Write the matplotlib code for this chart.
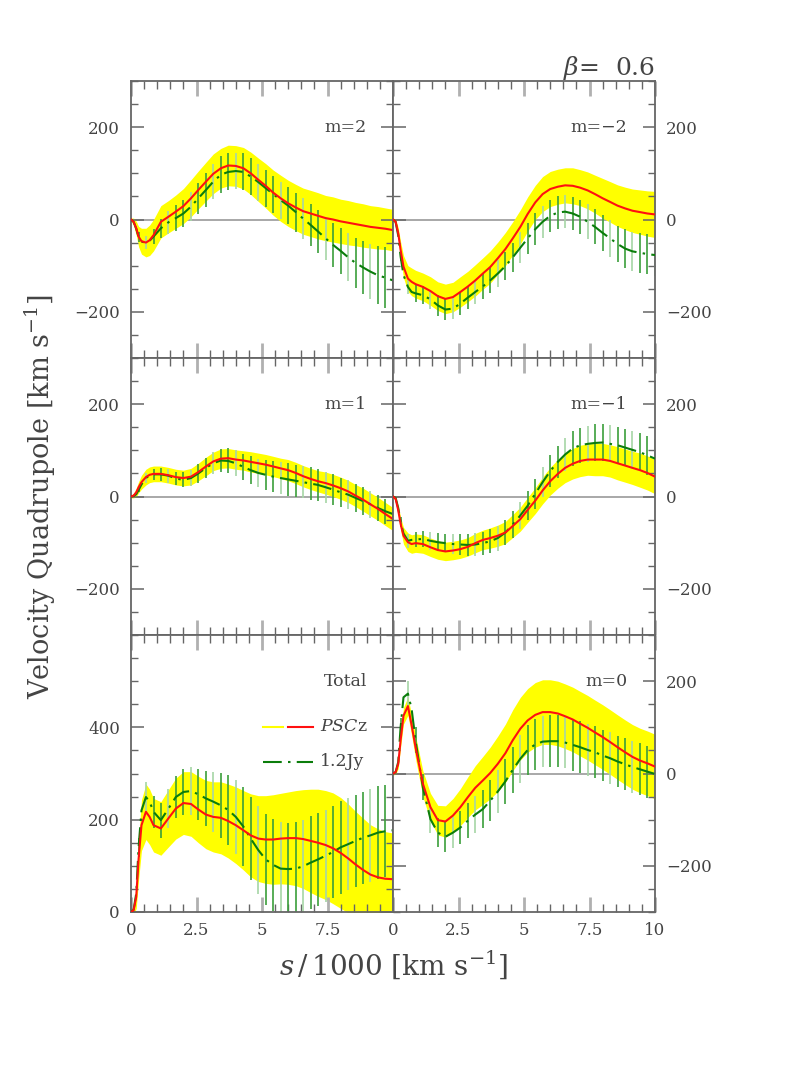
import matplotlib
matplotlib.use("Agg")
import matplotlib.pyplot as plt
import numpy as np
from matplotlib.ticker import MultipleLocator, FixedLocator

plt.rcParams["font.family"] = ["DejaVu Serif"]
plt.rcParams["mathtext.fontset"] = "dejavuserif"

nan = np.nan

# s/1000 sample points (error bars only where the error array is not nan)
S = [0.0, 0.1, 0.2, 0.29, 0.4, 0.57, 0.71, 0.86, 1.14, 1.43, 1.71, 2.0, 2.29, 2.57,
     2.86, 3.14, 3.43, 3.71, 4.0, 4.29, 4.57, 4.86, 5.14, 5.43, 5.71, 6.0, 6.29, 6.57,
     6.86, 7.14, 7.43, 7.71, 8.0, 8.29, 8.57, 8.86, 9.14, 9.43, 9.71, 10.0]

# m=2
M2_PSCZ = [0, -5, -19, -37, -47, -50, -45, -34, -5, 6, 17, 29, 46, 64, 82, 99, 111, 117,
           116, 111, 100, 86, 73, 58, 46, 35, 26, 18, 13, 8, 3, 0, -4, -7, -10, -13, -16,
           -18, -20, -23]
M2_BAND = [3, 8, 15, 22, 28, 31, 33, 34, 35, 35, 36, 38, 40, 41, 42, 43, 43, 44, 44, 45,
           46, 47, 48, 49, 50, 50, 50, 50, 50, 50, 49, 49, 48, 48, 47, 47, 46, 46, 45, 45]
M2_JY = [0, -5, -20, -38, -48, -50, -46, -37, -19, -6, 3, 13, 28, 46, 64, 82, 97, 103,
         105, 103, 93, 81, 68, 55, 42, 30, 16, 2, -12, -26, -41, -55, -68, -82, -94, -104,
         -113, -121, -126, -132]
M2_ERR = [nan, nan, nan, 10, nan, 14, nan, 16, 20, 25, 28, 30, 32, 34, 36, 38, 40, 40,
          40, 40, 40, 40, 40, 40, 40, 40, 42, 44, 45, 46, 47, 48, 50, 52, 55, 58, 60, 63,
          66, 70]

# m=-2
MM2_PSCZ = [0, -5, -30, -66, -102, -128, -135, -140, -146, -155, -166, -172, -168, -157,
            -145, -132, -117, -103, -84, -64, -41, -16, 12, 37, 55, 66, 71, 74, 73, 69, 63,
            55, 46, 38, 30, 24, 19, 16, 13, 11]
MM2_BAND = [3, 6, 12, 18, 24, 28, 30, 30, 30, 31, 31, 32, 32, 33, 33, 34, 34, 35, 35, 36,
            36, 37, 37, 37, 38, 38, 38, 38, 39, 39, 40, 41, 43, 44, 45, 46, 47, 48, 49, 50]
MM2_JY = [0, -5, -35, -80, -120, -146, -157, -160, -164, -173, -186, -195, -193, -182,
          -169, -157, -145, -132, -117, -101, -82, -61, -41, -21, -5, 8, 15, 17, 13, 6, -5,
          -16, -29, -41, -53, -63, -69, -72, -75, -77]
MM2_ERR = [nan, nan, nan, 10, nan, 15, nan, 18, 20, 20, 22, 22, 22, 24, 25, 26, 27, 28,
           30, 30, 32, 33, 34, 35, 35, 35, 36, 36, 36, 37, 38, 38, 39, 40, 40, 42, 42, 43,
           44, 45]

# m=1
M1_PSCZ = [0, 2, 9, 20, 31, 42, 47, 49, 49, 46, 42, 40, 43, 53, 65, 76, 82, 83, 80, 78,
           75, 72, 69, 65, 61, 57, 51, 44, 38, 33, 29, 24, 18, 11, 2, -7, -17, -27, -38, -49]
M1_BAND = [3, 5, 9, 12, 15, 17, 17, 17, 17, 17, 17, 17, 18, 19, 20, 20, 21, 21, 21, 21,
           22, 22, 22, 22, 22, 23, 23, 23, 23, 23, 24, 24, 24, 24, 24, 25, 25, 25, 25, 25]
M1_JY = [0, 1, 5, 14, 26, 40, 46, 48, 48, 45, 39, 36, 40, 50, 62, 72, 78, 77, 72, 64, 57,
         51, 47, 43, 40, 37, 34, 31, 28, 25, 20, 15, 9, 4, -3, -10, -17, -25, -32, -38]
M1_ERR = [nan, nan, nan, 5, nan, 10, nan, 12, 14, 15, 15, 16, 18, 20, 22, 24, 25, 27, 28,
          29, 30, 31, 32, 33, 34, 35, 35, 35, 35, 35, 34, 33, 32, 31, 30, 30, 29, 28, 27, 26]

# m=-1
MM1_PSCZ = [0, -5, -30, -59, -85, -99, -103, -101, -103, -110, -116, -119, -117, -114,
            -109, -101, -94, -90, -85, -78, -64, -49, -29, -9, 13, 33, 49, 62, 71, 77, 80,
            80, 80, 77, 72, 67, 62, 57, 51, 43]
MM1_BAND = [3, 5, 10, 14, 18, 20, 20, 20, 20, 20, 20, 20, 20, 20, 20, 21, 21, 22, 23, 24,
            25, 26, 27, 28, 29, 30, 31, 32, 33, 34, 34, 35, 35, 35, 36, 36, 36, 37, 37, 37]
MM1_JY = [0, -3, -25, -55, -80, -96, -94, -93, -92, -96, -99, -101, -103, -104, -105, -104,
          -101, -97, -90, -78, -61, -41, -20, 6, 31, 55, 75, 91, 104, 111, 114, 116, 117,
          114, 111, 106, 101, 96, 89, 82]
MM1_ERR = [nan, nan, nan, 10, nan, 15, nan, 17, 18, 19, 20, 20, 21, 22, 23, 24, 25, 26,
           27, 28, 29, 30, 31, 32, 33, 34, 35, 36, 37, 38, 39, 40, 40, 40, 40, 40, 41, 41,
           42, 42]

# Total
TOT_PSCZ = [0, 4, 33, 115, 188, 217, 206, 188, 181, 203, 224, 236, 234, 222, 211, 206,
            204, 197, 188, 177, 166, 159, 157, 157, 159, 160, 160, 158, 154, 150, 145, 138,
            128, 116, 103, 91, 81, 75, 72, 71]
TOT_BAND = [5, 10, 25, 45, 55, 60, 60, 58, 58, 62, 66, 68, 70, 72, 74, 76, 78, 80, 83, 86,
            90, 93, 95, 97, 98, 100, 103, 107, 112, 116, 118, 120, 120, 118, 115, 112, 108,
            105, 102, 100]
TOT_JY = [0, 5, 40, 140, 220, 249, 239, 217, 199, 224, 249, 260, 262, 255, 246, 239, 231,
          221, 206, 185, 159, 134, 114, 102, 94, 93, 94, 99, 107, 114, 122, 130, 140, 147,
          154, 161, 166, 172, 175, 177]
TOT_ERR = [nan, nan, nan, 20, nan, 32, nan, 35, 38, 42, 46, 50, 52, 55, 60, 65, 70, 75,
           80, 85, 90, 95, 98, 100, 100, 100, 100, 100, 100, 100, 100, 100, 100, 100, 100,
           100, 100, 100, 100, 100]

# m=0
M0_PSCZ = [0, 3, 21, 72, 125, 146, 105, 57, -22, -73, -101, -104, -91, -73, -51, -31, -15,
           1, 21, 44, 72, 97, 115, 127, 133, 133, 130, 124, 117, 108, 99, 89, 79, 68, 57,
           46, 36, 28, 22, 15]
M0_BAND = [3, 5, 10, 15, 18, 20, 22, 25, 28, 30, 32, 34, 37, 40, 44, 48, 52, 56, 60, 63,
           66, 68, 69, 70, 70, 70, 70, 70, 70, 70, 70, 70, 70, 70, 70, 70, 70, 70, 70, 70]
M0_JY = [0, 3, 25, 100, 165, 173, 140, 72, -30, -99, -128, -137, -128, -117, -102, -89,
         -77, -59, -39, -17, 8, 32, 51, 63, 69, 70, 70, 67, 62, 57, 51, 46, 39, 33, 26, 20,
         14, 9, 4, -1]
M0_ERR = [nan, nan, nan, 20, nan, 28, nan, 28, 28, 30, 32, 33, 34, 36, 38, 40, 42, 44, 46,
          48, 50, 52, 54, 55, 56, 56, 56, 56, 56, 56, 56, 56, 56, 56, 56, 56, 56, 56, 56, 56]

PANELS = [
    ("m=2", M2_PSCZ, M2_BAND, M2_JY, M2_ERR),
    ("m=\u22122", MM2_PSCZ, MM2_BAND, MM2_JY, MM2_ERR),
    ("m=1", M1_PSCZ, M1_BAND, M1_JY, M1_ERR),
    ("m=\u22121", MM1_PSCZ, MM1_BAND, MM1_JY, MM1_ERR),
    ("Total", TOT_PSCZ, TOT_BAND, TOT_JY, TOT_ERR),
    ("m=0", M0_PSCZ, M0_BAND, M0_JY, M0_ERR),
]

TXT = "#444444"
SPINE = "#666666"
YELLOW = "#ffff00"
RED = "#ff1010"
GREEN = "#0b7d0b"
BAR_DARK = "#3b9e3b"
BAR_LIGHT = "#a6d6a6"
DASHDOT = (0, (9, 3, 1.2, 3))

fig = plt.figure(figsize=(7.97, 10.75), dpi=100)
W, H = 262 / 797, 277 / 1075
lefts = [131 / 797, 393 / 797]
bottoms = [(1075 - 358) / 1075, (1075 - 635) / 1075, (1075 - 912) / 1075]

s = np.array(S)
for i, (name, pscz, band, jy, err) in enumerate(PANELS):
    row, col = divmod(i, 2)
    ax = fig.add_axes([lefts[col], bottoms[row], W, H])
    pscz = np.array(pscz, float)
    band = np.array(band, float)
    jy = np.array(jy, float)
    err = np.array(err, float)
    total = name == "Total"

    if not total:
        ax.axhline(0, color="#9a9a9a", lw=1.2, zorder=0.5)
    ax.fill_between(s, pscz - band, pscz + band, color=YELLOW, lw=0, zorder=1)

    ok = ~np.isnan(err)
    bs, bj, be = s[ok], jy[ok], err[ok]
    cols = [BAR_LIGHT if k % 3 == 1 else BAR_DARK for k in range(len(bs))]
    ax.vlines(bs, bj - be, bj + be, colors=cols, lw=1.2, zorder=2)

    ax.plot(s, jy, color=GREEN, lw=1.5, ls=DASHDOT, zorder=3)
    ax.plot(s, pscz, color=RED, lw=1.5, zorder=4)

    ax.set_xlim(0, 10)
    if total:
        ax.set_ylim(0, 600)
        ax.yaxis.set_major_locator(FixedLocator([0, 200, 400]))
    else:
        ax.set_ylim(-300, 300)
        ax.yaxis.set_major_locator(MultipleLocator(200))
    ax.yaxis.set_minor_locator(MultipleLocator(50))
    ax.xaxis.set_major_locator(MultipleLocator(2.5))
    ax.xaxis.set_minor_locator(MultipleLocator(0.5))

    ax.tick_params(axis="both", which="both", direction="in", top=True, right=True,
                   labelsize=12, labelcolor=TXT)
    ax.tick_params(axis="x", which="major", length=11, width=2, color="#b0b0b0", pad=7)
    ax.tick_params(axis="x", which="minor", length=6, width=1, color=SPINE)
    ax.tick_params(axis="y", which="major", length=9, width=1.1, color=SPINE, pad=8)
    ax.tick_params(axis="y", which="minor", length=5, width=1, color=SPINE)

    if col == 1:
        ax.tick_params(axis="y", labelleft=False, labelright=True)
    if row < 2:
        ax.tick_params(axis="x", labelbottom=False)
    else:
        labs = ["0", "2.5", "5", "7.5", "10" if col == 1 else ""]
        ax.set_xticks([0, 2.5, 5, 7.5, 10])
        ax.set_xticklabels(labs)

    for sp in ax.spines.values():
        sp.set_color(SPINE)
        sp.set_linewidth(1.3)

    ax.text(0.90 if col == 0 else 0.895, 0.832, name, transform=ax.transAxes,
            ha="right", va="center", fontsize=12.5, color=TXT)

    if total:
        yl = 0.668
        ax.plot([0.503, 0.581], [yl, yl], transform=ax.transAxes, color=YELLOW, lw=1.5)
        ax.plot([0.599, 0.695], [yl, yl], transform=ax.transAxes, color=RED, lw=1.5)
        ax.text(0.72, yl, "$PSC$z", transform=ax.transAxes, ha="left", va="center",
                fontsize=12.5, color=TXT)
        yg = 0.542
        ax.plot([0.503, 0.695], [yg, yg], transform=ax.transAxes, color=GREEN, lw=1.5,
                ls=DASHDOT)
        ax.text(0.72, yg, "1.2Jy", transform=ax.transAxes, ha="left", va="center",
                fontsize=12.5, color=TXT)

fig.text(40 / 797, 1 - 497 / 1075, "Velocity Quadrupole [km s$^{-1}$]", rotation=90,
         ha="center", va="center", fontsize=19.5, color=TXT)
fig.text(393 / 797, 1 - 965 / 1075, "$s\\,/\\,$1000 [km s$^{-1}$]", ha="center",
         va="center", fontsize=20, color=TXT)
fig.text(655 / 797, 1 - 68 / 1075, "$\\beta$=  0.6", ha="right", va="center",
         fontsize=18, color=TXT)

fig.savefig("out.png", dpi=100)
